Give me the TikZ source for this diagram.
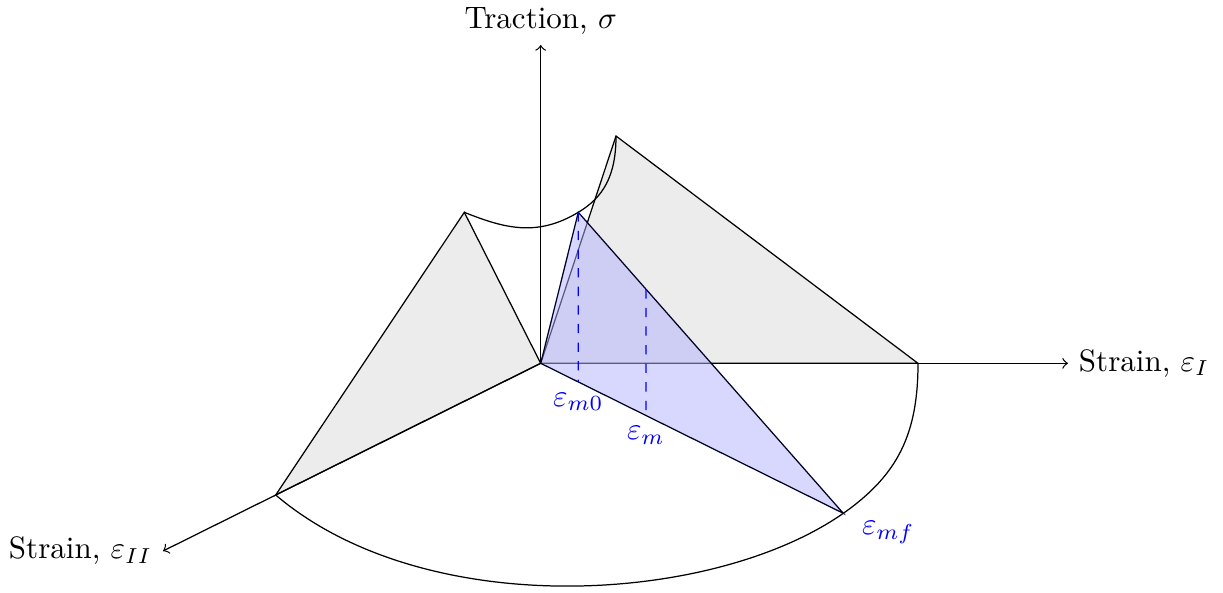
\documentclass[tikz,border=0pt]{standalone}
\usetikzlibrary{calc}
\begin{document}
\begin{tikzpicture}[x=0.3226pt,y=-0.3226pt,
  face/.style={fill=gray!15,draw=black},
  bluetri/.style={fill=blue!30,fill opacity=0.5,draw=blue!15!black},
  axis/.style={->},
  guide/.style={blue,dashed},
  lab/.style={blue}]
\useasboundingbox (0,0) rectangle (1223,592);
\coordinate (O) at (540.7,363.3);
\coordinate (A) at (918,363.3);
\coordinate (B) at (275.7,495);
\coordinate (P1) at (616,136);
\coordinate (P2) at (464.3,212.3);
\coordinate (T) at (578.3,212.3);
\coordinate (C) at (843.3,513.3);
\coordinate (tS) at (540.7,45);
\coordinate (tI) at (1068,363.3);
\coordinate (tII) at ($(O)!1.4253!(B)$);
% grey faces
\filldraw[face] (O) -- (P2) -- (B) -- cycle;
\filldraw[face] (O) -- (P1) -- (A) -- cycle;
% axes
\draw[axis] (O) -- (tS) node[above,black] (lS) {Traction, $\sigma$};
\draw[axis] (O) -- (tI) node[right,black] (lI) {Strain, $\varepsilon_I$};
\draw[axis] (O) -- (tII) node[left,black] (lII) {Strain, $\varepsilon_{II}$};
% arcs
\draw (B) .. controls (425.7,622.5) and (713.3,604.3) .. (C)
          .. controls (898.3,474.8) and (918,433.3) .. (A);
\draw (P2) .. controls (505.3,228.7) and (537.3,236.9) .. (T)
           .. controls (603.3,197.3) and (616,176) .. (P1);
% blue triangle
\filldraw[bluetri] (O) -- (T) -- (C) -- cycle;
\coordinate (D1b) at ($(O)!0.1243!(C)$);
\coordinate (D2t) at ($(T)!0.2555!(C)$);
\coordinate (D2b) at ($(O)!0.348!(C)$);
\draw[guide] (T) -- (D1b);
\draw[guide] (D2t) -- (D2b);
\node[lab,below] (l0) at (D1b) {$\varepsilon_{m0}$};
\node[lab,below] (lm) at (D2b) {$\varepsilon_{m}$};
\node[lab,below right,xshift=2.5pt,yshift=1pt] (lf) at (C) {$\varepsilon_{mf}$};
\end{tikzpicture}
\end{document}
